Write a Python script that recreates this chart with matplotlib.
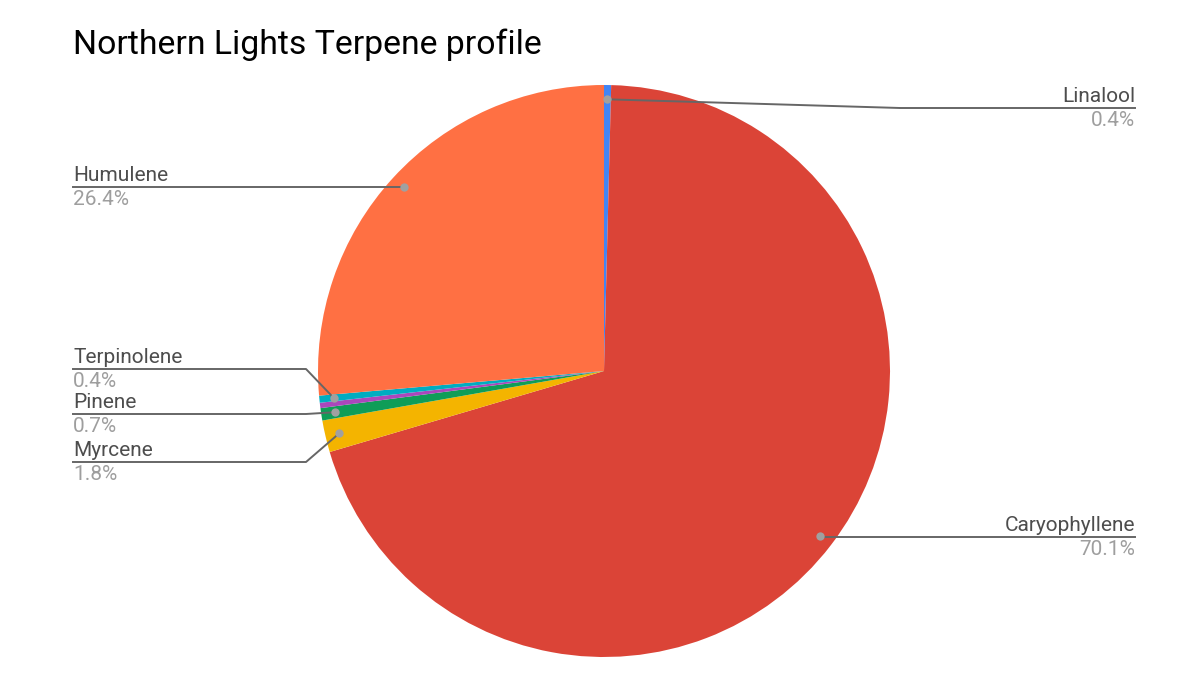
import numpy as np
import matplotlib.pyplot as plt

# data (clockwise from 12 o'clock)
names = ['Linalool', 'Caryophyllene', 'Myrcene', 'Pinene', '', 'Terpinolene', 'Humulene']
values = [0.4, 70.1, 1.8, 0.7, 0.3, 0.4, 26.4]
pct_labels = ['0.4%', '70.1%', '1.8%', '0.7%', '', '0.4%', '26.4%']
colors = ['#4285F4', '#DB4437', '#F4B400', '#0F9D58', '#AB47BC', '#00ACC1', '#FF7043']

# label layout in pixels: (line y, elbow x, text end x, side)
label_pos = {
    'Linalool': (108, 900, 1135, 'right'),
    'Caryophyllene': (537, None, 1135, 'right'),
    'Myrcene': (462, 306, 73, 'left'),
    'Pinene': (414, 306, 73, 'left'),
    'Terpinolene': (369, 306, 73, 'left'),
    'Humulene': (187, None, 73, 'left'),
}

W, H = 1200, 679
cx, cy, r = 604, H - 371, 286

fig = plt.figure(figsize=(12, 6.79), dpi=100)
ax = fig.add_axes([0, 0, 1, 1])

wedges, _ = ax.pie(values, colors=colors, startangle=90, counterclock=False,
                   center=(cx, cy), radius=r, frame=True,
                   wedgeprops=dict(linewidth=0))
ax.set_xlim(0, W)
ax.set_ylim(0, H)
ax.set_aspect('equal')
ax.axis('off')

name_col = '#4d4d4d'
pct_col = '#9e9e9e'
line_col = '#666666'
fs = 15

for w, name, pct in zip(wedges, names, pct_labels):
    if not name:
        continue
    mid = np.deg2rad((w.theta1 + w.theta2) / 2)
    dx = cx + 0.95 * r * np.cos(mid)
    dy = cy + 0.95 * r * np.sin(mid)
    ly, ex, tx, side = label_pos[name]
    ly = H - ly
    if ex is None:
        xs = [dx, tx]
        ys = [ly, ly]
    else:
        xs = [dx, ex, tx]
        ys = [dy, ly, ly]
    ax.plot(xs, ys, color=line_col, lw=1.4, zorder=3)
    ax.plot(dx, dy, 'o', ms=6, color='#a0a0a0', mec='none', zorder=4)
    ha = 'right' if side == 'right' else 'left'
    ax.text(tx, ly + 2, name, ha=ha, va='bottom', fontsize=fs,
            color=name_col, family='Roboto')
    ax.text(tx, ly - 3, pct, ha=ha, va='top', fontsize=fs,
            color=pct_col, family='Roboto')

ax.text(73, H - 45, 'Northern Lights Terpene profile', ha='left', va='center',
        fontsize=24.3, color='#000000', family='Roboto')

fig.savefig('out.png', dpi=100, facecolor='white')
